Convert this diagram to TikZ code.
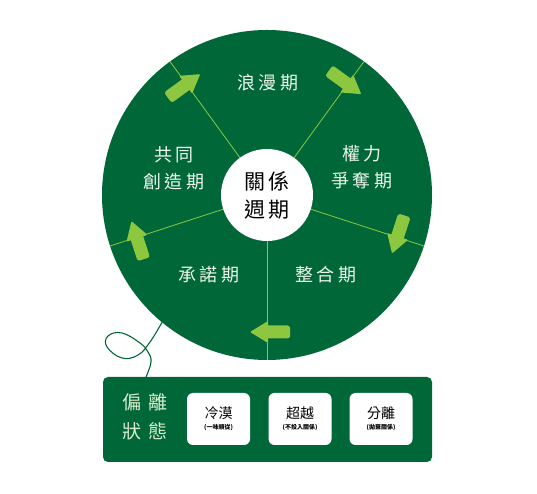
\documentclass[tikz,border=0pt]{standalone}
\usepackage{fontspec}
\usepackage{tikz}

\newfontfamily\cjk[LetterSpace=18]{Noto Sans CJK TC}
\newfontfamily\cjkwide[LetterSpace=40]{Noto Sans CJK TC}
\newfontfamily\cjktight{Noto Sans CJK TC}

\definecolor{ringgreen}{RGB}{0,104,56}
\definecolor{arrowgreen}{RGB}{141,198,63}
\definecolor{labelwhite}{RGB}{240,246,236}
\definecolor{palegreen}{RGB}{214,234,204}

\tikzset{
    phase/.style={text=labelwhite, font=\cjk\fontsize{18}{27}\selectfont, align=center, inner sep=0pt},
    hub/.style={circle, fill=white, minimum size=92pt, inner sep=0pt, align=center,
        font=\cjk\fontsize{21}{28}\selectfont},
    spoke/.style={arrowgreen, line width=0.8pt},
    panel/.style={fill=ringgreen, rounded corners=5pt, inner sep=0pt},
    statebox/.style={fill=white, rounded corners=6pt, minimum width=63pt, minimum height=52pt,
        inner sep=0pt, align=center},
    cord/.style={ringgreen, line width=1.1pt}
}

\newcommand{\statetext}[2]{{\cjktight\fontsize{14}{15}\selectfont #1}\\[-1pt]{\cjktight\bfseries\fontsize{6}{7}\selectfont (#2)}}

\begin{document}
\begin{tikzpicture}[x=1pt, y=1pt]

    % Define parameters
    \def\cx{267}
    \def\cy{299}
    \def\outerR{165}
    \def\innerR{46}
    \def\arrowR{137}

    \useasboundingbox (0,0) rectangle (537,494);

    \begin{scope}[shift={(\cx,\cy)}]
        % Draw the ring
        \fill[ringgreen] (0,0) circle (\outerR);

        % Spokes between the phases
        \foreach \a in {126,54,-18,-90,198} {
            \draw[spoke] (\a:\innerR) -- (\a:\outerR);
        }

        % Clockwise arrows on the spokes
        \foreach \a in {126,54,-18,-90,198} {
            \begin{scope}[shift={(\a:\arrowR)}, rotate=\a-90]
                \fill[arrowgreen, rounded corners=2.5pt] (-23,-6.5) rectangle (2,6.5);
                \fill[arrowgreen, rounded corners=1pt] (-1,-11) -- (17,0) -- (-1,11) -- cycle;
            \end{scope}
        }

        % Centre of the cycle
        \node[hub] (cycle) at (0,0) {關係\\週期};

        \coordinate (cordstart) at (230.5:\outerR);
    \end{scope}

    % Phase labels
    \node[phase] (romance) at (268,411) {浪漫期};
    \node[phase] (power)   at (362,327) {權力\\爭奪期};
    \node[phase] (merge)   at (326,219) {整合期};
    \node[phase] (commit)  at (209,219) {承諾期};
    \node[phase] (create)  at (174,326) {共同\\創造期};

    % Deviation panel
    \node[panel, minimum width=329pt, minimum height=85pt] (deviate) at (267.5,74.5) {};
    \node[text=palegreen, font=\cjkwide\fontsize{19}{29}\selectfont, align=center, inner sep=0pt]
        (deviatelabel) at (145,77) {偏離\\狀態};

    \node[statebox] (cold)     at (218.5,75) {\statetext{冷漠}{一味順從}};
    \node[statebox] (beyond)   at (300,75)   {\statetext{超越}{不投入關係}};
    \node[statebox] (separate) at (381,75)   {\statetext{分離}{拋棄關係}};

    % Loop of cord from the ring to the panel
    \draw[cord] plot[smooth, tension=0.7] coordinates {(cordstart) (150,152) (138,139) (122,136) (107,147)
        (108,158) (122,161) (140,151) (148,142) (151,132) (146,117)};

\end{tikzpicture}
\end{document}
